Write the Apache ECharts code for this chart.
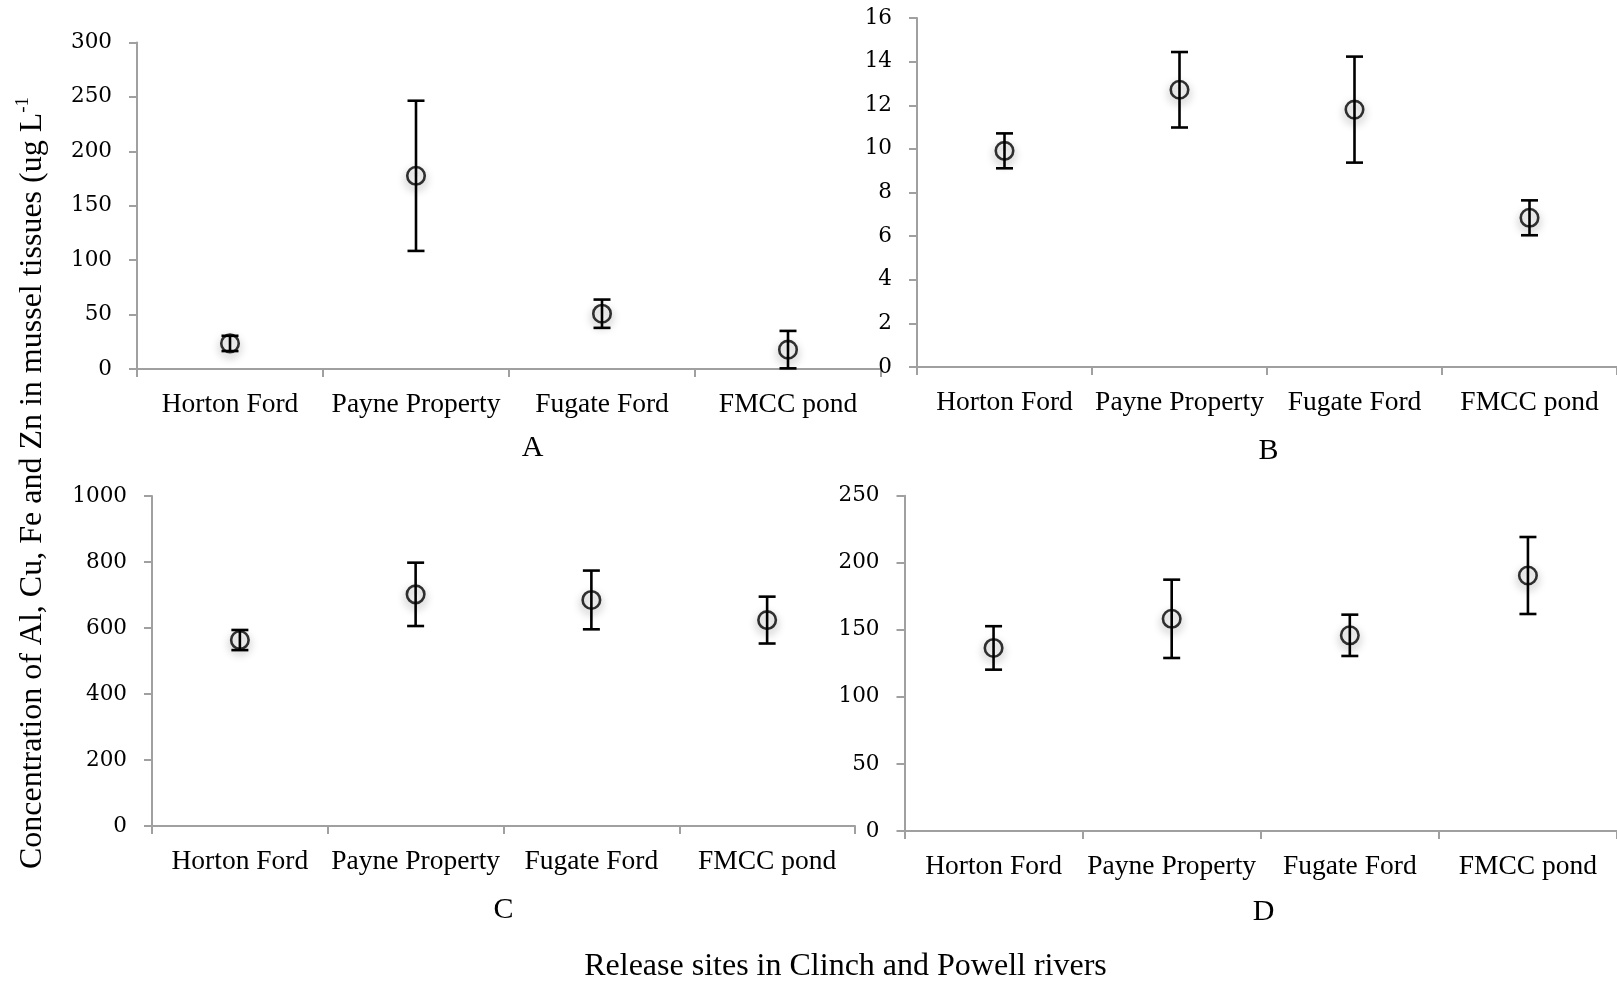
<!DOCTYPE html>
<html>
<head>
<meta charset="utf-8">
<script src="https://cdn.jsdelivr.net/npm/echarts@6/dist/echarts.min.js"></script>
<style>
  html, body { margin: 0; padding: 0; background: #fff; }
  #chart { width: 1617px; height: 981px; }
</style>
</head>
<body>
<div id="chart"></div>
<script>
// Release sites (shared by all four panels)
const sites = ['Horton Ford', 'Payne Property', 'Fugate Ford', 'FMCC pond'];

// Panel A: mean and error
const meanA = [23.5, 177.5, 50.8, 17.8];
const errA  = [7, 69, 13, 17.2];
// Panel B
const meanB = [9.91, 12.71, 11.8, 6.84];
const errB  = [0.8, 1.73, 2.43, 0.8];
// Panel C
const meanC = [563.5, 702, 685, 624];
const errC  = [30.5, 96, 89, 71];
// Panel D
const meanD = [136.5, 158.2, 145.9, 190.5];
const errD  = [16.2, 29.2, 15.4, 28.7];

// Axis scales: [max, interval]
const scaleA = [300, 50];
const scaleB = [16, 2];
const scaleC = [1000, 200];
const scaleD = [250, 50];

const panelLabels = ['A', 'B', 'C', 'D'];

const tickFont = 'DejaVu Serif';
const textFont = 'Liberation Serif';
const axisGray = '#a0a0a0';

const grids = [
  { left: 137, top: 42.5, width: 744, height: 326.5 },
  { left: 917, top: 18, width: 708, height: 349 },
  { left: 152, top: 496, width: 703, height: 330 },
  { left: 904.5, top: 495.7, width: 718, height: 335.3 }
];

const panels = [
  { mean: meanA, err: errA, scale: scaleA },
  { mean: meanB, err: errB, scale: scaleB },
  { mean: meanC, err: errC, scale: scaleC },
  { mean: meanD, err: errD, scale: scaleD }
];

const xAxes = grids.map((g, i) => ({
  type: 'category',
  gridIndex: i,
  data: sites,
  boundaryGap: true,
  axisLine: { lineStyle: { color: axisGray, width: 2 } },
  axisTick: { show: true, interval: 0, length: 8, lineStyle: { color: axisGray, width: 2 } },
  axisLabel: { interval: 0, margin: 22, color: '#000', fontFamily: textFont, fontSize: 27.5 }
}));

const yAxes = panels.map((p, i) => ({
  type: 'value',
  gridIndex: i,
  min: 0,
  max: p.scale[0],
  interval: p.scale[1],
  splitLine: { show: false },
  axisLine: { show: true, lineStyle: { color: axisGray, width: 2 } },
  axisTick: { show: true, length: 8, lineStyle: { color: axisGray, width: 2 } },
  axisLabel: {
    margin: 25, color: '#000', fontFamily: tickFont, fontSize: 21.5,
    formatter: v => String(v)
  }
}));

function errorBarItem(params, api) {
  const idx = api.value(0);
  const m = api.value(1);
  const e = api.value(2);
  const top = api.coord([idx, m + e]);
  const bot = api.coord([idx, m - e]);
  const half = 8.5;
  const style = { stroke: '#000', lineWidth: 2.6 };
  return {
    type: 'group',
    children: [
      { type: 'line', shape: { x1: top[0], y1: top[1], x2: bot[0], y2: bot[1] }, style },
      { type: 'line', shape: { x1: top[0] - half, y1: top[1], x2: top[0] + half, y2: top[1] }, style },
      { type: 'line', shape: { x1: bot[0] - half, y1: bot[1], x2: bot[0] + half, y2: bot[1] }, style }
    ]
  };
}

const series = [];
panels.forEach((p, i) => {
  series.push({
    type: 'custom',
    xAxisIndex: i,
    yAxisIndex: i,
    renderItem: errorBarItem,
    data: p.mean.map((m, k) => [k, m, p.err[k]]),
    z: 2,
    silent: true
  });
  series.push({
    type: 'scatter',
    xAxisIndex: i,
    yAxisIndex: i,
    symbol: 'circle',
    symbolSize: 17.5,
    data: p.mean.map((m, k) => [k, m]),
    itemStyle: {
      color: 'rgba(255,255,255,0)',
      borderColor: '#000',
      borderWidth: 2.6,
      shadowBlur: 8,
      shadowOffsetY: 4,
      shadowColor: 'rgba(0,0,0,0.5)'
    },
    z: 3,
    silent: true
  });
});

const labelPos = [[532.5, 448], [1268.5, 451], [503.5, 910], [1263.5, 912]];
const graphics = panelLabels.map((t, i) => ({
  type: 'text',
  x: labelPos[i][0],
  y: labelPos[i][1],
  style: {
    text: t,
    fontFamily: textFont,
    fontSize: 30,
    fill: '#000',
    align: 'center',
    verticalAlign: 'middle'
  }
}));

// Shared axis titles
graphics.push({
  type: 'text',
  x: 845.5,
  y: 967,
  style: {
    text: 'Release sites in Clinch and Powell rivers',
    fontFamily: textFont,
    fontSize: 32,
    fill: '#000',
    align: 'center',
    verticalAlign: 'middle'
  }
});
graphics.push({
  type: 'text',
  x: 31,
  y: 483,
  rotation: Math.PI / 2,
  style: {
    text: '{m|Concentration of Al, Cu, Fe and Zn in mussel tissues (ug L}{s|-1}',
    align: 'center',
    verticalAlign: 'middle',
    fill: '#000',
    rich: {
      m: { fontFamily: textFont, fontSize: 32, lineHeight: 35, verticalAlign: 'bottom' },
      s: { fontFamily: textFont, fontSize: 19, lineHeight: 35, verticalAlign: 'top' }
    }
  }
});

const chart = echarts.init(document.getElementById('chart'), null, { renderer: 'canvas' });
chart.setOption({
  animation: false,
  backgroundColor: '#fff',
  grid: grids,
  xAxis: xAxes,
  yAxis: yAxes,
  series: series,
  graphic: graphics
});
</script>
</body>
</html>
